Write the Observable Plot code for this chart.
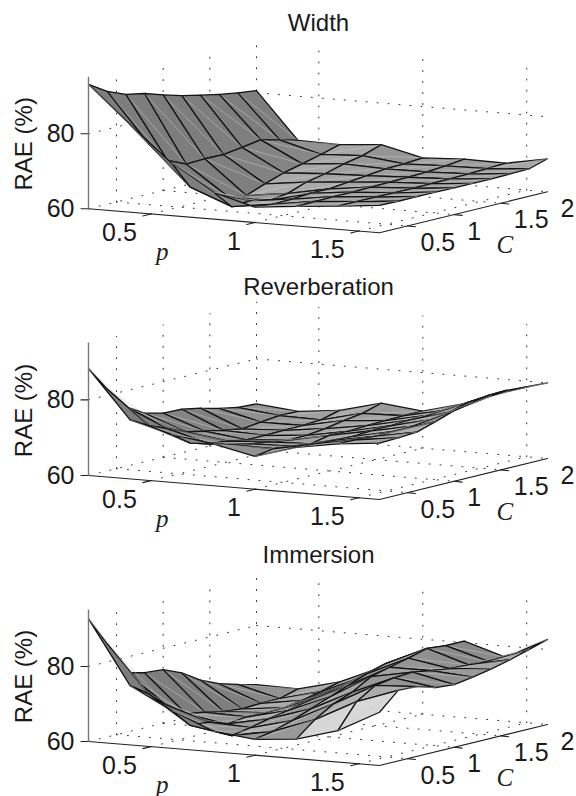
<!DOCTYPE html>
<html>
<head>
<meta charset="utf-8">
<script src="https://cdn.jsdelivr.net/npm/d3@7"></script>
<script src="https://cdn.jsdelivr.net/npm/@observablehq/plot@0.6"></script>
<style>html,body{margin:0;padding:0;background:#fff}svg{display:block}</style>
</head>
<body>
<div id="chart"></div>
<script>
const pValues = [0.2, 0.4, 0.6, 0.8, 1.0, 1.2, 1.4, 1.6];
const cValues = [0.2, 0.4, 0.6, 0.8, 1.0, 1.2, 1.4, 1.6, 1.8, 2.0];
const pTicks = [0.5, 1, 1.5];
const cTicks = [0.5, 1, 1.5, 2];
const zTicks = [60, 80];
const titles = ["Width", "Reverberation", "Immersion"];

const raeWidth = [
  [93.2,90.1,88.1,87.1,85.5,84.1,83.0,82.0,81.2,80.6],
  [83.4,77.0,71.4,69.2,69.4,69.3,70.0,70.8,69.6,68.2],
  [74.0,66.4,63.8,61.5,60.5,62.4,64.1,65.3,66.6,68.0],
  [67.2,62.1,62.5,61.3,62.0,63.8,64.8,66.2,67.2,68.9],
  [64.1,63.7,63.8,64.2,64.1,64.7,65.2,65.8,65.9,66.3],
  [65.2,65.3,65.4,65.4,65.5,65.6,65.7,65.9,66.3,66.9],
  [66.2,66.2,66.2,66.1,66.1,66.1,66.2,66.3,66.5,66.7],
  [67.3,67.2,67.2,67.2,67.1,67.1,67.1,67.2,67.3,68.8]
];
const raeReverberation = [
  [88.3,81.7,75.8,72.9,71.7,71.5,70.6,69.3,68.4,68.1],
  [75.6,72.9,70.9,68.8,67.8,66.8,66.0,66.6,67.1,67.0],
  [72.7,69.2,67.8,67.3,66.4,66.4,66.5,66.6,66.9,68.2],
  [71.1,69.7,68.7,68.0,67.2,67.3,67.9,68.8,69.5,71.0],
  [68.7,69.5,68.9,68.4,69.4,69.3,69.6,69.7,69.8,69.8],
  [72.0,71.7,71.4,71.2,71.5,71.6,71.9,72.0,72.1,72.7],
  [73.8,73.7,73.4,73.5,73.7,74.2,75.0,76.4,76.9,77.1],
  [74.9,75.1,75.4,77.0,78.7,79.7,80.3,80.4,80.2,80.0]
];
const raeImmersion = [
  [92.7,84.9,75.9,74.7,74.3,72.2,69.1,66.9,65.5,64.2],
  [75.8,72.4,68.1,64.6,63.9,62.8,62.3,62.6,62.6,64.0],
  [70.1,64.9,64.6,62.9,63.5,63.4,63.5,64.3,65.4,66.8],
  [65.5,63.1,64.0,65.2,66.1,67.2,68.2,69.2,70.2,71.6],
  [64.2,65.2,66.8,68.7,70.6,72.5,74.4,75.9,76.4,76.5],
  [65.2,69.2,72.2,74.1,77.0,78.3,79.5,80.9,80.4,80.4],
  [68.4,74.9,78.0,78.8,79.1,78.3,77.6,77.4,77.2,77.0],
  [74.2,78.8,78.6,77.1,76.7,77.5,78.5,79.7,81.2,82.7]
];
const matrices = [raeWidth, raeReverberation, raeImmersion];

// per-panel screen placement of the z=60 left corner and title
const floorY = [208.3, 475, 741];
const zScale = [3.75, 3.78, 3.75];
const titleY = [22.5, 287, 555];

const pMin = 0.2, pMax = 1.6, cMin = 0.2, cMax = 2.0, zMin = 60, zMax = 95;
const originX = 88, pSpanX = 291, pSpanY = 24, cSpanX = 168, cSpanY = -41;

function project(k, p, c, z) {
  const u = (p - pMin) / (pMax - pMin), v = (c - cMin) / (cMax - cMin);
  return {
    x: originX + u * pSpanX + v * cSpanX,
    y: floorY[k] + u * pSpanY + v * cSpanY - (z - zMin) * zScale[k]
  };
}

const slopeToGray = d3.scaleLinear()
  .domain([-1.5, -0.5, 0, 0.14, 0.3, 0.45, 0.72, 0.78, 1.2])
  .range([0.49, 0.5, 0.6, 0.65, 0.68, 0.57, 0.66, 0.84, 0.88])
  .clamp(true);
function shade(dp, dc) {
  const v = Math.round(255 * slopeToGray(0.085 * dp + 0.08 * dc));
  return `rgb(${v},${v},${v})`;
}

const polys = [], dots = [], axes = [], zAxis = [], labels = [], mathLabels = [], ticks = [];

matrices.forEach((m, k) => {
  const cells = [];
  for (let i = 0; i < pValues.length - 1; i++)
    for (let j = 0; j < cValues.length - 1; j++) cells.push({i, j});
  cells.sort((a, b) => (a.i - a.j) - (b.i - b.j));
  cells.forEach(({i, j}) => {
    const corner = (a, b) => project(k, pValues[a], cValues[b], m[a][b]);
    const dp = (m[i+1][j] + m[i+1][j+1] - m[i][j] - m[i][j+1]) / 2;
    const dc = (m[i][j+1] + m[i+1][j+1] - m[i][j] - m[i+1][j]) / 2;
    const fill = shade(dp, dc);
    const id = `${k}-${i}-${j}`;
    [corner(i,j), corner(i+1,j), corner(i+1,j+1), corner(i,j+1), corner(i,j)].forEach(q =>
      polys.push({...q, id, fill, stroke: "#141414", sw: 1.3}));
    [corner(i,j), corner(i+1,j+1)].forEach(q =>
      polys.push({...q, id: id + "d", fill: "none", stroke: "#c9c9c9", sw: 0.5}));
  });

  // dotted back walls and floor
  const seg = (a, b) => {
    const id = `g${dots.length}`;
    dots.push({...project(k, ...a), id}, {...project(k, ...b), id});
  };
  for (const c of cTicks) {
    seg([pMin, c, zMin], [pMin, c, zMax]);
    if (c < cMax) seg([pMin, c, zMin], [pMax, c, zMin]);
  }
  for (const p of pTicks) {
    seg([p, cMax, zMin], [p, cMax, zMax]);
    seg([p, cMin, zMin], [p, cMax, zMin]);
  }
  for (const z of zTicks) {
    seg([pMin, cMin, z], [pMin, cMax, z]);
    seg([pMin, cMax, z], [pMax, cMax, z]);
  }

  // solid axes
  [[pMin, cMin], [pMax, cMin], [pMax, cMax]].forEach(([p, c]) =>
    axes.push({...project(k, p, c, zMin), id: `a${k}`}));
  [zMin, zMax].forEach(z => zAxis.push({...project(k, pMin, cMin, z), id: `z${k}`}));

  const tick = (q, dx, dy, id) => { ticks.push({...q, id}, {x: q.x + dx, y: q.y + dy, id}); };
  zTicks.forEach(z => {
    const q = project(k, pMin, cMin, z);
    tick(q, -7.5, 0, `tz${k}${z}`);
    labels.push({x: q.x - 14, y: q.y, text: String(z), anchor: "end"});
  });
  pTicks.forEach(p => {
    const q = project(k, p, cMin, zMin);
    tick(q, -8, 2, `tp${k}${p}`);
    labels.push({x: q.x - 14, y: q.y + 19, text: String(p), anchor: "end"});
  });
  cTicks.forEach(c => {
    const q = project(k, pMax, c, zMin);
    if (c < cMax) tick(q, 8, 0.8, `tc${k}${c}`);
    labels.push({x: q.x + 13, y: q.y + 17, text: String(c), anchor: "start"});
  });

  labels.push({x: 318, y: titleY[k], text: titles[k], anchor: "middle"});
  labels.push({x: 24, y: floorY[k] - 65, text: "RAE (%)", anchor: "middle", rotate: -90});
  const pl = project(k, 0.55, cMin, zMin), cl = project(k, pMax, 1.2, zMin);
  mathLabels.push({x: pl.x + 1, y: pl.y + 37, text: "p"}, {x: cl.x + 32, y: cl.y + 35, text: "C"});
});

const font = "'Liberation Sans', Arial, sans-serif";
const plot = Plot.plot({
  width: 576, height: 796, margin: 0,
  x: {domain: [0, 576], range: [0, 576], axis: null},
  y: {domain: [0, 796], range: [0, 796], axis: null},
  color: {type: "identity"},
  marks: [
    Plot.line(dots, {x: "x", y: "y", z: "id", stroke: "#333", strokeWidth: 1, strokeDasharray: "1 10"}),
    Plot.line(axes, {x: "x", y: "y", z: "id", stroke: "#222", strokeWidth: 1.1}),
    Plot.line(ticks, {x: "x", y: "y", z: "id", stroke: "#222", strokeWidth: 1.1}),
    Plot.line(polys, {x: "x", y: "y", z: "id", fill: "fill", stroke: "stroke", strokeWidth: "sw", strokeLinejoin: "round"}),
    Plot.line(zAxis, {x: "x", y: "y", z: "id", stroke: "#777", strokeWidth: 1.4}),
    Plot.text(labels.filter(d => d.anchor === "end"), {x: "x", y: "y", text: "text", textAnchor: "end", fontSize: 25, fontFamily: font, fill: "#1a1a1a"}),
    Plot.text(labels.filter(d => d.anchor === "start"), {x: "x", y: "y", text: "text", textAnchor: "start", fontSize: 25, fontFamily: font, fill: "#1a1a1a"}),
    Plot.text(labels.filter(d => d.anchor === "middle" && !d.rotate), {x: "x", y: "y", text: "text", fontSize: 24, fontFamily: font, fill: "#1a1a1a"}),
    Plot.text(labels.filter(d => d.rotate), {x: "x", y: "y", text: "text", rotate: -90, fontSize: 24, fontFamily: font, fill: "#1a1a1a"}),
    Plot.text(mathLabels, {x: "x", y: "y", text: "text", fontSize: 25, fontStyle: "italic", fontFamily: "'Liberation Serif', serif", fill: "#222"})
  ]
});
document.getElementById("chart").appendChild(plot);
</script>
</body>
</html>
